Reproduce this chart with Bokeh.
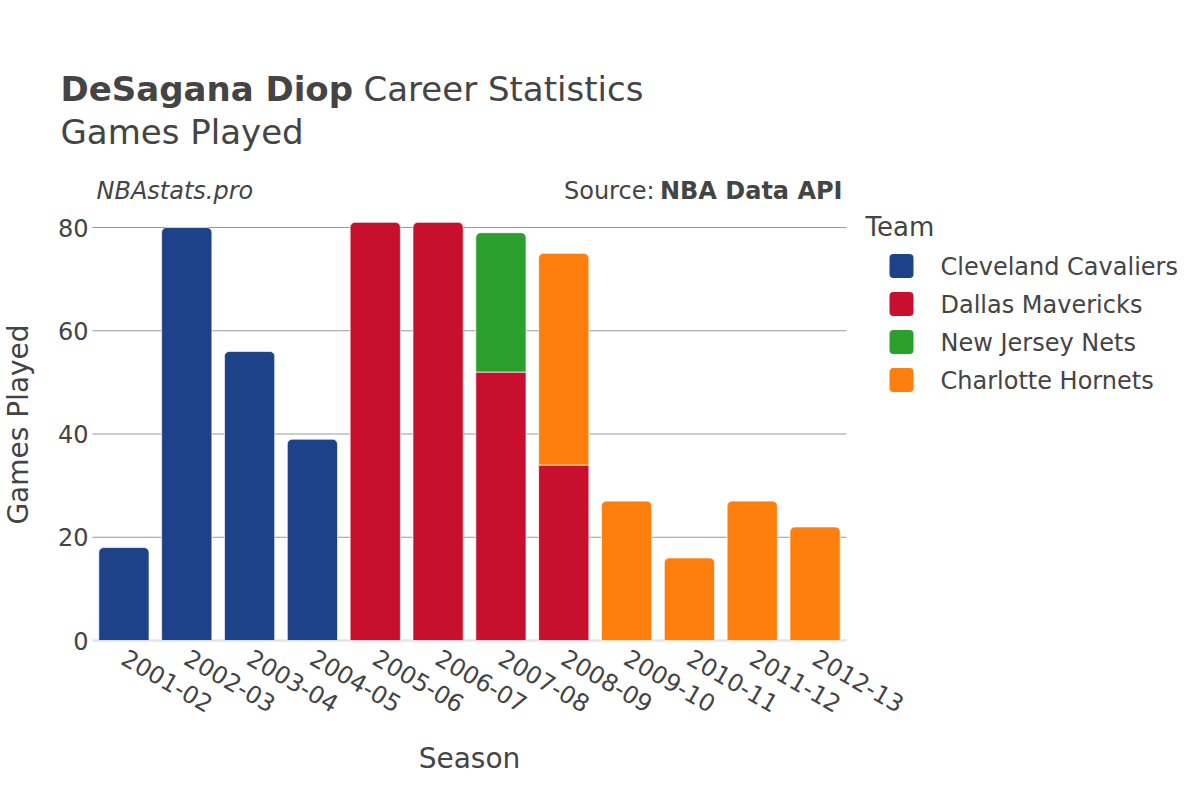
import math
from bokeh.plotting import figure
from bokeh.models import (ColumnDataSource, Range1d, Label, LinearAxis, FixedTicker)
from bokeh.core.properties import value
from bokeh.embed import file_html
from bokeh.resources import INLINE

# ---------------- data ----------------
seasons = ["2001-02", "2002-03", "2003-04", "2004-05", "2005-06", "2006-07",
           "2007-08", "2008-09", "2009-10", "2010-11", "2011-12", "2012-13"]
teams = ["Cleveland Cavaliers", "Dallas Mavericks", "New Jersey Nets", "Charlotte Hornets"]
team_colors = ["#1D428A", "#C8102E", "#2CA02C", "#FF7F0E"]
cleveland = [18, 80, 56, 39, 0, 0, 0, 0, 0, 0, 0, 0]
dallas = [0, 0, 0, 0, 81, 81, 52, 34, 0, 0, 0, 0]
nets = [0, 0, 0, 0, 0, 0, 27, 0, 0, 0, 0, 0]
hornets = [0, 0, 0, 0, 0, 0, 0, 41, 27, 16, 27, 22]
y_ticks = [0, 20, 40, 60, 80]

series = [cleveland, dallas, nets, hornets]
season_pos = list(range(len(seasons)))  # category positions on the x scale

# ---------------- stack segments ----------------
top_d = dict(x=[], bottom=[], top=[], color=[], team=[])
low_d = dict(x=[], bottom=[], top=[], color=[], team=[])
for i, s in enumerate(seasons):
    base = 0
    segs = []
    for t, vals in enumerate(series):
        v = vals[i]
        if v > 0:
            segs.append((t, base, base + v))
            base += v
    for k, (t, b, tp) in enumerate(segs):
        d = top_d if k == len(segs) - 1 else low_d
        d["x"].append(season_pos[i])
        d["bottom"].append(b)
        d["top"].append(tp)
        d["color"].append(team_colors[t])
        d["team"].append(teams[t])

FONT = "DejaVu Sans"
TXT = "#444444"

# ---------------- layout geometry (canvas pixels) ----------------
W, H = 1192, 792
PLOT_L, PLOT_R = 92, 846   # plot area left / right
ZERO_Y = 640               # pixel row of y = 0
PX_PER_Y = 413 / 80.0      # pixels per game
PX_PER_X = (PLOT_R - PLOT_L) / len(seasons)


def X(px):
    return (px - PLOT_L) / PX_PER_X - 0.5


def Y(py):
    return (ZERO_Y - py) / PX_PER_Y


p = figure(width=W, height=H,
           x_range=Range1d(X(0), X(W)), y_range=Range1d(Y(H), Y(0)),
           output_backend="svg", toolbar_location=None,
           x_axis_location=None, y_axis_location=None,
           min_border_left=0, min_border_right=0, min_border_top=0, min_border_bottom=0)
p.grid.visible = False
p.outline_line_color = None
p.background_fill_color = "white"
p.border_fill_color = "white"

x_lo, x_hi = season_pos[0] - 0.5, season_pos[-1] + 0.5

# gridlines (horizontal, across the plot area only) and zero line
grid_src = ColumnDataSource(dict(y=y_ticks[1:], x0=[x_lo] * (len(y_ticks) - 1),
                                 x1=[x_hi] * (len(y_ticks) - 1)))
p.segment(x0="x0", x1="x1", y0="y", y1="y", source=grid_src,
          line_color="#999999", line_width=1)
p.segment(x0=[x_lo], x1=[x_hi], y0=[0], y1=[0], line_color="#e5e5e5", line_width=2.5)

# bars
p.vbar(x="x", bottom="bottom", top="top", width=0.8, source=ColumnDataSource(low_d),
       fill_color="color", line_color="white", line_width=0.7)
p.vbar(x="x", bottom="bottom", top="top", width=0.8, source=ColumnDataSource(top_d),
       fill_color="color", line_color="white", line_width=0.7,
       border_radius=(5, 5, 0, 0))

# axes (fixed inside the canvas)
yaxis = LinearAxis(fixed_location=x_lo, bounds=(0, Y(208)),
                   ticker=FixedTicker(ticks=y_ticks), axis_label="Games Played")
xaxis = LinearAxis(fixed_location=0, bounds=(x_lo, x_hi),
                   ticker=FixedTicker(ticks=season_pos), axis_label="Season",
                   major_label_overrides={pos: s for pos, s in zip(season_pos, seasons)})
for ax in (xaxis, yaxis):
    ax.axis_line_color = None
    ax.major_tick_line_color = None
    ax.minor_tick_line_color = None
    ax.major_tick_out = 0
    ax.major_tick_in = 0
    ax.major_label_text_font = FONT
    ax.major_label_text_font_size = "24px"
    ax.major_label_text_color = TXT
    ax.axis_label_text_font = FONT
    ax.axis_label_text_font_size = "28px"
    ax.axis_label_text_font_style = "normal"
    ax.axis_label_text_color = TXT
yaxis.major_label_standoff = 4
yaxis.axis_label_standoff = 20
xaxis.major_label_orientation = -math.pi / 6
xaxis.major_label_standoff = 15
xaxis.axis_label_standoff = 18
p.add_layout(yaxis, "left")
p.add_layout(xaxis, "below")


def label(px, py, text, size, style="normal", align="left"):
    p.add_layout(Label(x=X(px), y=Y(py), text=text, text_font=FONT,
                       text_font_size=size, text_font_style=style, text_color=TXT,
                       text_align=align, text_baseline="middle"))


# titles and notes (py = vertical centre of the text)
label(60, 88, "DeSagana Diop", "34px", "bold")
label(363, 88, "Career Statistics", "34px")
label(60, 131, "Games Played", "34px")
label(96, 190, "NBAstats.pro", "24px", "italic")
label(842, 190, "NBA Data API", "24px", "bold", "right")
label(654, 190, "Source:", "24px", "normal", "right")

# legend
label(865, 226, "Team", "26px")
row_c = [265.5 + 38 * i for i in range(len(teams))]
sw_x = X(901)
sw_w = 24 / PX_PER_X
leg_src = ColumnDataSource(dict(
    x=[sw_x] * len(teams),
    top=[Y(c - 12) for c in row_c], bottom=[Y(c + 12) for c in row_c],
    ty=[Y(c + 1) for c in row_c], tx=[X(940)] * len(teams),
    color=team_colors, team=teams))
p.vbar(x="x", top="top", bottom="bottom", width=sw_w, source=leg_src,
       fill_color="color", line_color=None, border_radius=4)
p.text(x="tx", y="ty", text="team", source=leg_src, text_font=value(FONT),
       text_font_size=value("24px"), text_color=TXT, text_baseline="middle",
       text_align="left")

open("out.html", "w").write(file_html(p, INLINE))
